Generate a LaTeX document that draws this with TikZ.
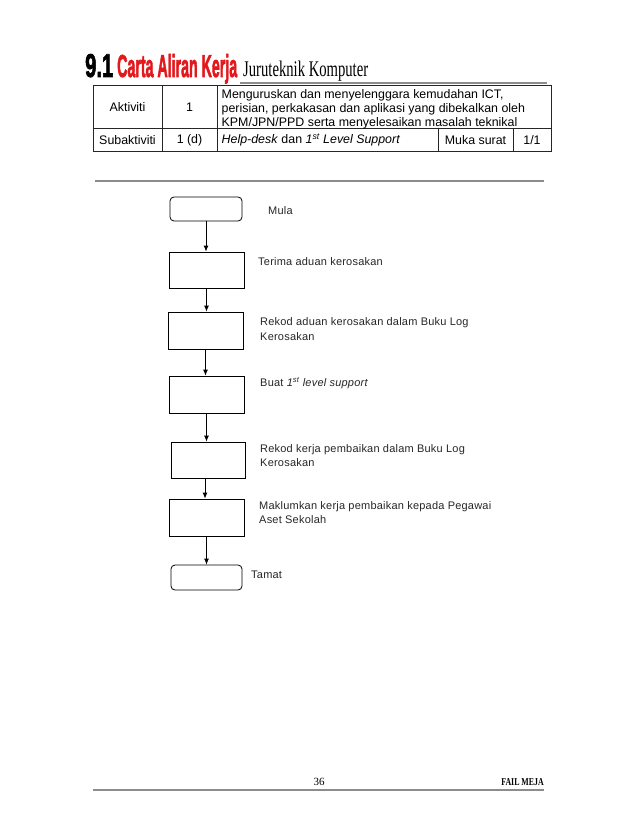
\documentclass[tikz,border=0pt]{standalone}
\usepackage{fontspec}
\setmainfont{Liberation Sans}
\newfontfamily\serifff{Liberation Serif}
\usetikzlibrary{arrows.meta}
\definecolor{titlered}{RGB}{226,24,28}
\tikzset{
  flowbox/.style={draw, line width=0.8pt, minimum width=#1, inner sep=0pt},
  roundbox/.style={draw, line width=0.8pt, rounded corners=4pt, inner sep=0pt},
  lbl/.style={anchor=west, align=left, inner sep=0pt, font=\fontsize{11}{14.5}\selectfont\addfontfeatures{LetterSpace=2}, text=black!85},
  arr/.style={-{Latex[length=6pt,width=5pt]}, line width=0.8pt},
  cell/.style={inner sep=0pt, font=\fontsize{12.4}{14}\selectfont},
  tline/.style={line width=0.8pt, black!85},
  rule/.style={line width=1.1pt, black!45}
}
\begin{document}
\begin{tikzpicture}[x=1pt,y=-1pt]
\useasboundingbox (0,0) rectangle (638,826);
% title
\node[anchor=base west, inner sep=0pt] (t1) at (85,77) {\resizebox{28pt}{23pt}{\bfseries\addfontfeatures{FakeBold=2.5}9.1}};
\node[anchor=base west, inner sep=0pt, text=titlered] (t2) at (117,77) {\resizebox{120pt}{23pt}{\bfseries\addfontfeatures{FakeBold=2.5}Carta Aliran Kerja}};
\node[anchor=base west, inner sep=0pt] (t3) at (243,77) {\resizebox{125pt}{15.5pt}{\fontsize{22}{22}\serifff Juruteknik Komputer}};
\draw[rule] (240,83) -- (547,83);
% table
\draw[tline] (93,85) rectangle (551,151);
\draw[tline] (93,128) -- (551,128);
\draw[tline] (162,85) -- (162,151);
\draw[tline] (217,85) -- (217,151);
\draw[tline] (438,128) -- (438,151);
\draw[tline] (513,128) -- (513,151);
\node[cell] (c11) at (127.5,107) {Aktiviti};
\node[cell] (c12) at (189.5,107) {1};
\node[cell, anchor=west, align=left] (c13) at (221.5,109) {Menguruskan dan menyelenggara kemudahan ICT,\\perisian, perkakasan dan aplikasi yang dibekalkan oleh\\KPM/JPN/PPD serta menyelesaikan masalah teknikal};
\node[cell] (c21) at (127.5,140) {Subaktiviti};
\node[cell] (c22) at (189.5,140) {1 (d)};
\node[cell, anchor=west] (c23) at (221.5,140) {\textit{Help-desk} dan \textit{1\textsuperscript{st} Level Support}};
\node[cell] (c24) at (475.5,140) {Muka surat};
\node[cell] (c25) at (532,140) {1/1};
\draw[rule] (95,181) -- (544,181);
% flowchart
\node[roundbox, minimum width=72pt, minimum height=24pt] (mula) at (206,209) {};
\node[flowbox=75pt, minimum height=36pt] (b2) at (206.5,270) {};
\node[flowbox=75pt, minimum height=37pt] (b3) at (205.5,330.5) {};
\node[flowbox=75pt, minimum height=37pt] (b4) at (206.5,394.5) {};
\node[flowbox=74pt, minimum height=36pt] (b5) at (208,460) {};
\node[flowbox=75pt, minimum height=37pt] (b6) at (206.5,517.5) {};
\node[roundbox, minimum width=71pt, minimum height=25pt] (tamat) at (206.5,577.5) {};
\draw[arr] (mula.south) -- (mula.south |- b2.north);
\draw[arr] (b2.south) -- (b2.south |- b3.north);
\draw[arr] (b3.south) -- (b3.south |- b4.north);
\draw[arr] (b4.south) -- (b4.south |- b5.north);
\draw[arr] ([xshift=-3pt]b5.south) -- ([xshift=-3pt]b5.south |- b6.north);
\draw[arr] (b6.south) -- (b6.south |- tamat.north);
\node[lbl] (l1) at (268,211) {Mula};
\node[lbl] (l2) at (258,262) {Terima aduan kerosakan};
\node[lbl] (l3) at (260,329) {Rekod aduan kerosakan dalam Buku Log\\Kerosakan};
\node[lbl] (l4) at (260,383) {Buat \textit{1\textsuperscript{st} level support}};
\node[lbl] (l5) at (260,455.5) {Rekod kerja pembaikan dalam Buku Log\\Kerosakan};
\node[lbl] (l6) at (259,512.5) {Maklumkan kerja pembaikan kepada Pegawai\\Aset Sekolah};
\node[lbl] (l7) at (251,575) {Tamat};
% footer
\node[inner sep=0pt, anchor=base] (pg) at (319,785) {\fontsize{11}{12}\serifff 36};
\node[inner sep=0pt, anchor=base east] (fm) at (544,785) {\scalebox{0.75}[1]{\fontsize{10.5}{12}\serifff\bfseries FAIL MEJA}};
\draw[rule] (93,790) -- (544,790);
\end{tikzpicture}
\end{document}
